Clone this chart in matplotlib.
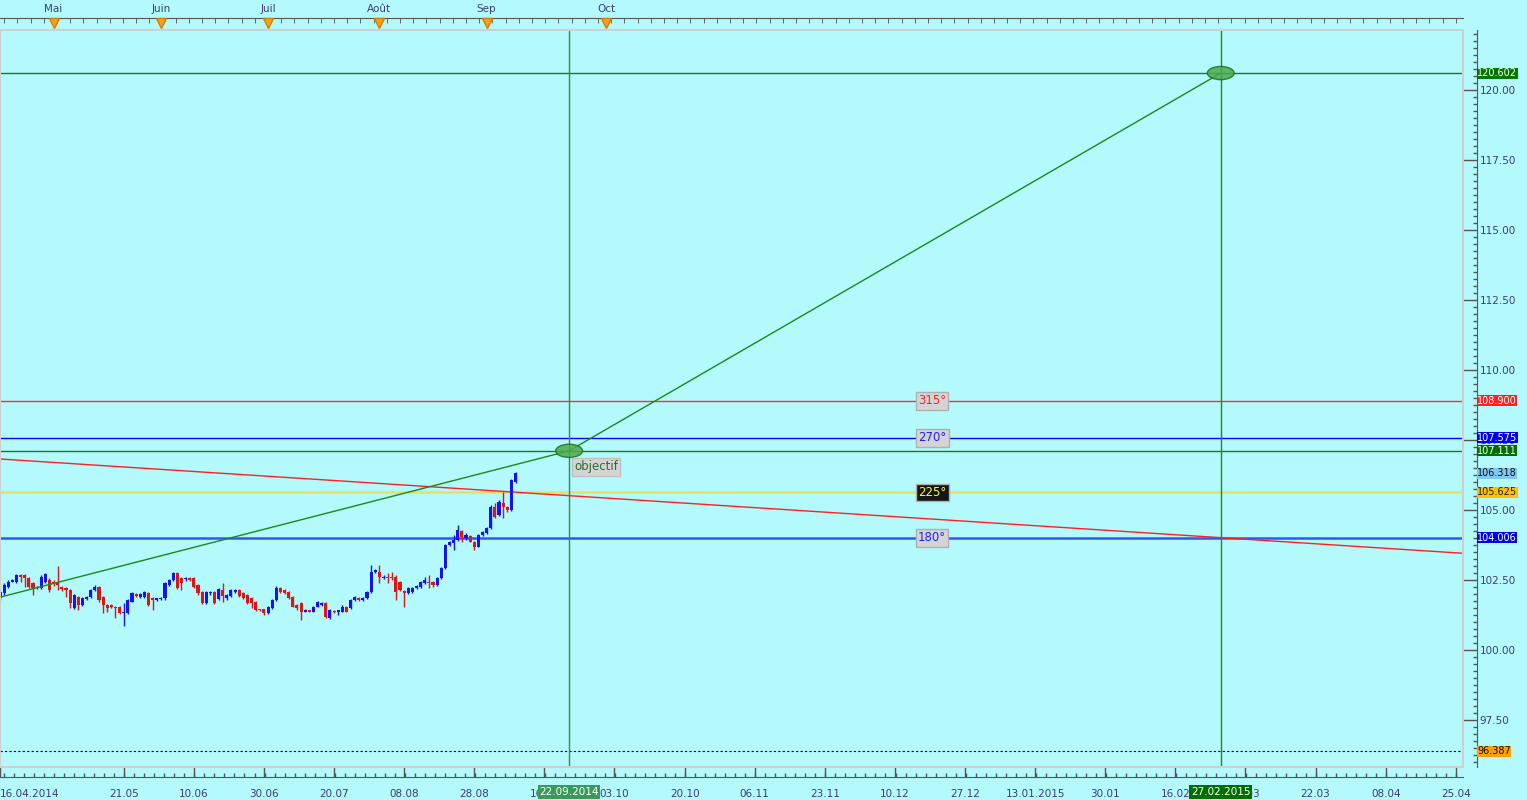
import numpy as np
import matplotlib.pyplot as plt
from matplotlib.patches import Ellipse, Rectangle

# --- bougies USD/JPY (barre -13 = 16.04.2014, 6 barres par semaine) ---
first_bar = -13
opens = [101.86, 102.02, 102.26, 102.44, 102.44, 102.68, 102.68, 102.56, 102.38, 102.20,
         102.20, 102.44, 102.50, 102.44, 102.44, 102.26, 102.20, 102.14, 101.49, 101.90,
         101.61, 101.81, 101.90, 102.14, 102.26, 101.90, 101.61, 101.61, 101.55, 101.55,
         101.31, 101.31, 101.73, 101.99, 101.90, 101.90, 102.02, 101.84, 101.79, 101.81,
         101.84, 102.32, 102.50, 102.74, 102.56, 102.52, 102.56, 102.56, 102.32, 102.08,
         101.67, 102.02, 102.08, 101.82, 102.14, 101.85, 101.91, 102.08, 102.14, 102.03,
         101.97, 101.85, 101.73, 101.45, 101.45, 101.31, 101.49, 101.79, 102.20, 102.14,
         102.08, 101.88, 101.61, 101.67, 101.37, 101.41, 101.37, 101.55, 101.61, 101.67,
         101.13, 101.40, 101.37, 101.37, 101.53, 101.49, 101.79, 101.85, 101.79, 101.85,
         102.08, 102.80, 102.80, 102.56, 102.62, 102.62, 102.62, 102.44, 102.12, 102.03,
         102.08, 102.20, 102.26, 102.38, 102.44, 102.44, 102.32, 102.56, 102.92, 103.75,
         103.81, 103.93, 104.26, 104.00, 104.07, 103.87, 103.69, 104.11, 104.17, 104.35,
         105.12, 104.82, 105.24, 105.12, 105.00, 106.01]
highs = [102.12, 102.38, 102.50, 102.53, 102.72, 102.72, 102.72, 102.60, 102.42, 102.30,
         102.66, 102.74, 102.56, 102.50, 102.99, 102.30, 102.24, 102.18, 102.00, 101.94,
         101.88, 101.94, 102.18, 102.32, 102.30, 101.94, 101.65, 101.64, 101.58, 101.58,
         101.67, 101.82, 102.06, 102.02, 102.04, 102.12, 102.06, 101.88, 101.86, 101.90,
         102.42, 102.54, 102.80, 102.78, 102.60, 102.62, 102.60, 102.60, 102.36, 102.12,
         102.12, 102.12, 102.12, 102.20, 102.38, 102.00, 102.18, 102.18, 102.18, 102.06,
         102.00, 101.88, 101.76, 101.48, 101.48, 101.58, 101.82, 102.30, 102.24, 102.17,
         102.11, 101.91, 101.64, 101.70, 101.46, 101.44, 101.58, 101.76, 101.73, 101.70,
         101.46, 101.43, 101.44, 101.60, 101.56, 101.82, 101.92, 101.88, 101.88, 102.11,
         103.04, 102.90, 103.04, 102.66, 102.74, 102.80, 102.66, 102.48, 102.15, 102.24,
         102.24, 102.33, 102.48, 102.62, 102.68, 102.47, 102.60, 102.96, 103.80, 103.90,
         104.11, 104.46, 104.30, 104.17, 104.10, 103.90, 104.14, 104.26, 104.38, 105.16,
         105.24, 105.34, 105.65, 105.15, 106.10, 106.35]
lows = [101.80, 101.98, 102.22, 102.42, 102.40, 102.44, 102.26, 102.20, 101.96, 102.16,
        102.16, 102.40, 102.08, 102.30, 102.14, 102.12, 101.90, 101.49, 101.45, 101.43,
        101.58, 101.78, 101.86, 102.10, 101.73, 101.31, 101.37, 101.50, 101.13, 101.28,
        100.86, 101.28, 101.70, 101.90, 101.86, 101.86, 101.58, 101.43, 101.76, 101.78,
        101.80, 102.28, 102.46, 102.16, 102.14, 102.48, 102.46, 102.22, 101.98, 101.63,
        101.63, 101.98, 101.63, 101.78, 101.73, 101.79, 101.88, 102.05, 101.90, 101.82,
        101.64, 101.49, 101.40, 101.40, 101.25, 101.28, 101.46, 101.76, 102.04, 102.00,
        101.82, 101.52, 101.43, 101.07, 101.34, 101.34, 101.34, 101.52, 101.58, 101.13,
        101.10, 101.32, 101.25, 101.34, 101.34, 101.46, 101.76, 101.76, 101.76, 101.82,
        102.05, 102.76, 102.38, 102.52, 102.38, 102.50, 101.79, 102.10, 101.55, 102.00,
        102.05, 102.17, 102.23, 102.35, 102.20, 102.26, 102.29, 102.53, 102.89, 103.72,
        103.57, 103.90, 103.87, 103.93, 103.84, 103.57, 103.66, 104.08, 104.14, 104.32,
        104.72, 104.79, 104.70, 104.94, 104.97, 105.98]
closes = [102.08, 102.32, 102.44, 102.50, 102.68, 102.62, 102.56, 102.26, 102.20, 102.26,
          102.62, 102.71, 102.14, 102.38, 102.32, 102.16, 102.14, 101.67, 101.96, 101.61,
          101.84, 101.90, 102.14, 102.26, 101.79, 101.61, 101.49, 101.55, 101.49, 101.31,
          101.37, 101.79, 102.02, 101.94, 101.99, 102.08, 101.61, 101.79, 101.84, 101.87,
          102.38, 102.50, 102.74, 102.20, 102.38, 102.58, 102.50, 102.26, 102.02, 101.67,
          102.08, 102.08, 101.67, 102.17, 101.91, 101.97, 102.14, 102.14, 101.93, 101.85,
          101.67, 101.67, 101.43, 101.43, 101.31, 101.55, 101.79, 102.20, 102.08, 102.03,
          101.85, 101.55, 101.49, 101.37, 101.43, 101.37, 101.55, 101.73, 101.67, 101.19,
          101.43, 101.35, 101.41, 101.55, 101.37, 101.79, 101.88, 101.79, 101.85, 102.08,
          102.80, 102.86, 102.62, 102.62, 102.56, 102.56, 102.08, 102.14, 102.03, 102.20,
          102.20, 102.29, 102.44, 102.50, 102.38, 102.32, 102.56, 102.92, 103.75, 103.87,
          103.93, 104.29, 104.05, 104.11, 103.87, 103.69, 104.11, 104.23, 104.35, 105.12,
          104.76, 105.30, 105.12, 105.00, 106.07, 106.318]

# niveaux horizontaux (angles de Gann)
levels = [108.900, 107.575, 105.625, 104.006]
level_names = ['315°', '270°', '225°', '180°']
level_colors = ['#ff3030', '#0000ff', '#e8e060', '#3355ff']
level_text_colors = ['#ff2020', '#2020ff', '#ffff30', '#2020ff']
level_box_colors = ['#d4d4d4', '#d4d4d4', '#151515', '#d4d4d4']
level_widths = [1.0, 1.0, 1.8, 1.8]
target_level = 107.111
top_target = 120.602
low_level = 96.387

# droites de tendance
green_x = [-13, 125, 283]
green_y = [101.884, 107.111, 120.602]
red_x = [-13, 342]
red_y = [106.82, 103.45]
date_marks = [125, 283]
date_mark_labels = ['22.09.2014', '27.02.2015']

# axe des dates
xtick_pos = [-13] + [17 * k for k in range(1, 21)]
xtick_labels = ['16.04.2014', '21.05', '10.06', '30.06', '20.07', '08.08', '28.08', '16.09',
                '03.10', '20.10', '06.11', '23.11', '10.12', '27.12', '13.01.2015', '30.01',
                '16.02', '05.03', '22.03', '08.04', '25.04']
month_pos = [0, 26, 52, 79, 105, 134]
month_labels = ['Mai', 'Juin', 'Juil', 'Août', 'Sep', 'Oct']

# étiquettes de prix sur l'axe
price_tags = [120.602, 108.900, 107.575, 107.111, 106.318, 105.625, 104.006, 96.387]
tag_bg = ['#007800', '#ff2020', '#0000f0', '#006e00', '#80c8f4', '#ffc000', '#0000f0', '#ffa000']
tag_fg = ['white', 'white', 'white', 'white', '#101010', '#202020', 'white', '#101010']

bg = '#b4f9fc'
txt = '#3c3c78'
xmin, xmax = -13.0, 341.75

fig = plt.figure(figsize=(15.27, 8.0), dpi=100, facecolor=bg)
ax = fig.add_axes([0, 0.04125, 0.9581, 0.92125])
ax.set_facecolor(bg)

# bougies
o = np.array(opens); h = np.array(highs); l = np.array(lows); c = np.array(closes)
x = np.arange(first_bar, first_bar + len(o))
cols = np.where(c >= o, '#1414f0', '#e01414')
ax.vlines(x, l, h, colors=cols, lw=1, zorder=3)
ax.bar(x, np.maximum(np.abs(c - o), 0.035), bottom=np.minimum(o, c), width=0.75,
       color=cols, linewidth=0, zorder=3)

# lignes horizontales
for v, col, lw in zip(levels, level_colors, level_widths):
    ax.axhline(v, color=col, lw=lw, zorder=2)
ax.axhline(target_level, color='#1a7a1a', lw=1, zorder=2)
ax.axhline(top_target, color='#1a7a1a', lw=1, zorder=2)
ax.axhline(low_level, color='black', lw=0.8, ls=(0, (2, 2)), zorder=2)

# verticales
ax.axvline(date_marks[0], color='#2e8f45', lw=1, zorder=2)
ax.axvline(date_marks[1], color='#1e8a1e', lw=1, zorder=2)

# droites
ax.plot(green_x, green_y, color='#1a8a1a', lw=1, zorder=4)
ax.plot(red_x, red_y, color='#ff2020', lw=1, zorder=2)

# ellipses
for px, py in zip(green_x[1:], green_y[1:]):
    ax.add_patch(Ellipse((px, py), width=6.5, height=0.47, fc='#4ea84e', alpha=0.85,
                         ec='#1f6f1f', lw=1, zorder=5))

ax.text(126.2, 106.54, 'objectif', ha='left', va='center', fontsize=8.5, color='#2e6b2e',
        bbox=dict(boxstyle='square,pad=0.2', fc='#d4d4d4', ec='#c0c0c0'), zorder=6)

for v, name, tc, bc in zip(levels, level_names, level_text_colors, level_box_colors):
    ax.text(213, v, name, ha='center', va='center', fontsize=8.5, color=tc,
            bbox=dict(boxstyle='square,pad=0.2', fc=bc, ec='#b0b0b0'), zorder=6)

# cadre
ax.add_patch(Rectangle((0, 0), 1, 1, transform=ax.transAxes, fill=False,
                       ec='#cfcfcf', lw=1.5, clip_on=False, zorder=7))
for s in ['left', 'top']:
    ax.spines[s].set_visible(False)

# axe des prix à droite
ax.yaxis.tick_right()
ax.spines['right'].set_position(('outward', 10))
ax.spines['right'].set_color('#555555')
ax.set_yticks(np.arange(97.5, 121, 2.5))
ax.set_yticklabels([f'{v:.2f}' for v in np.arange(97.5, 121, 2.5)])
ax.set_yticks(np.arange(96.0, 122.1, 0.25), minor=True)
ax.tick_params(axis='y', which='major', direction='in', length=10, width=1, color='#555555',
               labelsize=7.5, labelcolor=txt, pad=2)
ax.tick_params(axis='y', which='minor', direction='in', length=3, width=1, color='#555555')

for v, b, f in zip(price_tags, tag_bg, tag_fg):
    ax.text(1.0096, v, f'{v:.3f}', transform=ax.get_yaxis_transform(), ha='left', va='center',
            fontsize=7.0, color=f, bbox=dict(boxstyle='square,pad=0.05', fc=b, ec='none'),
            zorder=8, clip_on=False)

# axe des dates en bas
ax.spines['bottom'].set_position(('outward', 7))
ax.spines['bottom'].set_color('#555555')
ax.set_xticks(xtick_pos)
ax.set_xticklabels(xtick_labels)
ax.get_xticklabels()[0].set_ha('left')
ax.set_xticks(np.arange(-12, 345, 17 / 7), minor=True)
ax.tick_params(axis='x', which='major', direction='in', length=8, width=1, color='#555555',
               labelsize=7.5, labelcolor=txt, pad=9)
ax.tick_params(axis='x', which='minor', direction='in', length=3, width=1, color='#555555')

# limites posées après les graduations (set_xticks élargit la vue)
ax.set_xlim(xmin, xmax)
ax.set_ylim(95.82, 122.14)

for d, lab, fc in zip(date_marks, date_mark_labels, ['#3a9a5c', '#007000']):
    ax.text(d, -0.0339, lab, transform=ax.get_xaxis_transform(), ha='center', va='center',
            fontsize=7.5, color='white', bbox=dict(boxstyle='square,pad=0.15', fc=fc, ec='none'),
            zorder=8, clip_on=False)

# axe des mois en haut
sec = ax.secondary_xaxis(1.0163)
sec.set_xticks(month_pos)
sec.set_xticklabels(month_labels)
sec.set_xticks(np.arange(-12, 345, 3.2), minor=True)
sec.spines['top'].set_color('#555555')
sec.tick_params(which='major', length=0, labelsize=7.5, labelcolor=txt, pad=3)
sec.tick_params(which='minor', direction='in', length=3.5, color='#555555')
ax.plot(month_pos, [1.0095] * len(month_pos), 'v', transform=ax.get_xaxis_transform(),
        ms=7, mfc='#f4a11e', mec='#d08000', clip_on=False, zorder=9)
ax.set_xlim(xmin, xmax)

fig.savefig('out.png', dpi=100, facecolor=bg)
